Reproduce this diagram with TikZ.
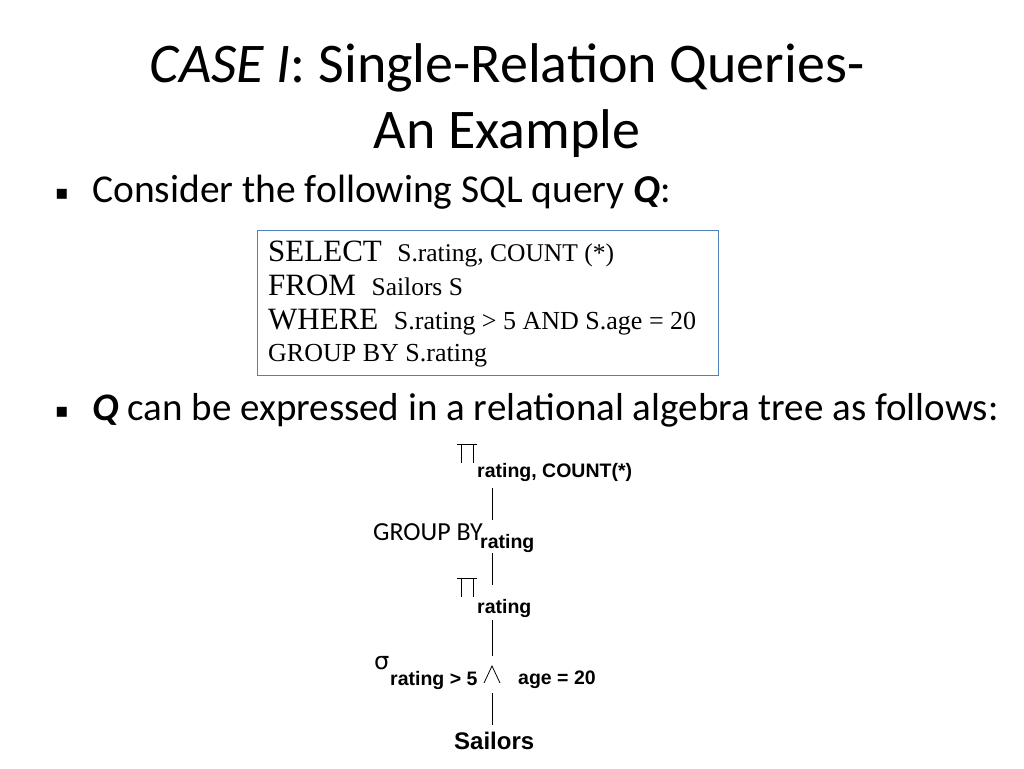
\documentclass[tikz,border=0pt]{standalone}
\usepackage{fontspec}
\setmainfont{Carlito}
\newfontfamily\sqlf{Liberation Serif}
\newfontfamily\arf{Liberation Sans}
\newfontfamily\djv{DejaVu Sans}
\definecolor{boxblue}{HTML}{4F81BD}
\begin{document}
\begin{tikzpicture}[x=1pt,y=-1pt,
  tt/.style={inner sep=0,anchor=base west},
  sq/.style={tt,font=\sqlf\fontsize{26}{28}\selectfont},
  sub/.style={tt,font=\arf\bfseries\fontsize{19.5}{21}\selectfont},
  edge/.style={line width=0.8pt}]
\useasboundingbox (0,0) rectangle (1024,768);
\node[inner sep=0,anchor=base] (t1) at (507,82) {\fontsize{56}{60}\selectfont\textit{CASE I}: Single-Relation Queries-};
\node[inner sep=0,anchor=base] (t2) at (507,148) {\fontsize{56}{60}\selectfont An Example};
\node[tt] (b1) at (55,199) {\djv\fontsize{20}{22}\selectfont ▪};
\node[tt] (l1) at (92,202) {\fontsize{39.5}{42}\selectfont Consider the following SQL query \textbf{\textit{Q}}:};
\node[draw=boxblue,line width=1pt,minimum width=461pt,minimum height=145pt,anchor=north west,inner sep=0] (box) at (257,230) {};
\node[sq] (s1) at (268,261) {\fontsize{31}{33}\selectfont SELECT\ \ \fontsize{25.5}{28}\selectfont S.rating, COUNT (*)};
\node[sq] (s2) at (268,295) {\fontsize{31}{33}\selectfont FROM\ \ \fontsize{25.5}{28}\selectfont Sailors S};
\node[sq] (s3) at (268,329) {\fontsize{31}{33}\selectfont WHERE\ \ \fontsize{26}{28}\selectfont S.rating > 5 AND S.age = 20};
\node[sq] (s4) at (268,361) {GROUP BY S.rating};
\node[tt] (b2) at (55,417) {\djv\fontsize{20}{22}\selectfont ▪};
\node[tt] (l2) at (92,420) {\fontsize{39}{42}\selectfont \textbf{\textit{Q}} can be expressed in a relational algebra tree as follows:};
% tree
\draw[edge] (457,444) -- (477,444) (461,444) -- (461,463) (473,444) -- (473,463);
\node[sub] (p1) at (477,477) {rating, COUNT(*)};
\coordinate (a1) at (492,488); \coordinate (a2) at (492,520);
\draw[edge] (a1) -- (a2);
\node[tt,font=\fontsize{26}{28}\selectfont] (g) at (373,540) {GROUP BY};
\node[sub] (gs) at (480,548) {rating};
\coordinate (b1c) at (492,553); \coordinate (b2c) at (492,585);
\draw[edge] (b1c) -- (b2c);
\draw[edge] (457,578) -- (477,578) (461,578) -- (461,597) (473,578) -- (473,597);
\node[sub] (p2) at (477,613) {rating};
\coordinate (c1) at (492,620); \coordinate (c2) at (492,656);
\draw[edge] (c1) -- (c2);
\node[tt,font=\djv\fontsize{24}{26}\selectfont] (sg) at (374,669) {σ};
\node[sub] (ss) at (390,685) {rating > 5};
\draw[edge] (484,683) -- (492,666) -- (500,683);
\node[sub] (ag) at (518,684) {age = 20};
\coordinate (d1) at (492,693); \coordinate (d2) at (492,725);
\draw[edge] (d1) -- (d2);
\node[tt,font=\arf\bfseries\fontsize{24}{26}\selectfont] (sl) at (454,749) {Sailors};
\end{tikzpicture}
\end{document}
